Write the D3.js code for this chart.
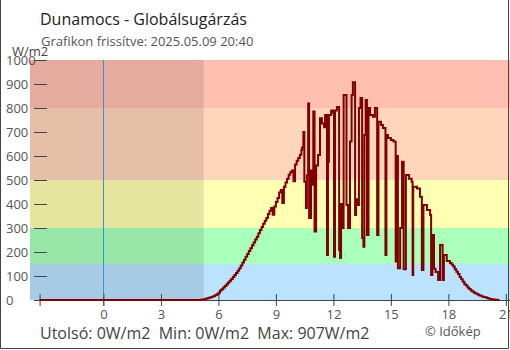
<!DOCTYPE html>
<html>
<head>
<meta charset="utf-8">
<script src="https://cdn.jsdelivr.net/npm/d3@7"></script>
<style>
  html, body { margin: 0; padding: 0; background: #fff; }
  svg { display: block; font-family: "Open Sans", "Noto Sans", sans-serif; }
</style>
</head>
<body>
<svg id="chart" width="510" height="350"></svg>
<script>
// Global radiation, Dunamocs – minutes from local midnight and W/m2 readings
const minutes = [
  -200, 300, 305, 310, 315, 320, 325, 330, 335, 340,
  345, 350, 355, 360, 365, 370, 375, 380, 385, 390,
  395, 400, 405, 410, 415, 420, 425, 430, 435, 440,
  445, 450, 455, 460, 465, 470, 475, 480, 485, 490,
  495, 500, 505, 510, 515, 520, 525, 530, 535, 540,
  545, 550, 555, 560, 565, 570, 575, 580, 585, 590,
  595, 600, 605, 610, 615, 620, 622, 626, 629, 634,
  637, 641, 644, 650, 655, 657, 661, 666, 672, 678,
  684, 691, 694, 700, 703, 706, 713, 719, 722, 725,
  731, 738, 741, 744, 747, 752, 761, 766, 772, 777,
  781, 788, 791, 796, 800, 805, 810, 814, 817, 821,
  825, 830, 835, 844, 850, 857, 861, 869, 875, 883,
  886, 891, 900, 908, 915, 918, 922, 929, 935, 940,
  947, 957, 965, 968, 970, 982, 991, 997, 1002, 1013,
  1023, 1026, 1030, 1035, 1040, 1048, 1054, 1062, 1066, 1075,
  1085, 1090, 1095, 1100, 1105, 1110, 1115, 1120, 1125, 1130,
  1135, 1140, 1145, 1150, 1155, 1160, 1165, 1170, 1175, 1180,
  1185, 1190, 1195, 1200, 1205, 1210, 1215, 1220, 1225, 1230,
  1235, 1240
];
const radiation = [
  0, 0, 1, 2, 3, 5, 7, 9, 11, 14,
  17, 21, 24, 30, 40, 45, 52, 58, 66, 73,
  80, 88, 96, 104, 112, 122, 132, 144, 156, 168,
  180, 192, 204, 216, 228, 240, 252, 264, 278, 292,
  304, 318, 330, 342, 358, 372, 383, 355, 390, 408,
  425, 448, 458, 404, 472, 490, 505, 522, 532, 540,
  495, 565, 580, 592, 605, 625, 635, 700, 493, 383,
  520, 819, 342, 540, 480, 785, 285, 560, 604, 757,
  735, 720, 771, 187, 576, 771, 790, 780, 180, 790,
  804, 208, 175, 400, 300, 854, 396, 300, 660, 854,
  907, 354, 420, 396, 800, 842, 258, 222, 687, 833,
  271, 800, 771, 764, 800, 271, 743, 729, 717, 187,
  687, 675, 667, 660, 160, 600, 132, 300, 576, 128,
  521, 505, 493, 104, 472, 465, 430, 125, 396, 375,
  354, 104, 271, 130, 117, 83, 229, 83, 187, 162,
  154, 148, 140, 128, 118, 108, 96, 86, 76, 66,
  60, 52, 46, 40, 35, 30, 27, 24, 20, 18,
  15, 13, 11, 8, 6, 4, 3, 2, 1, 1,
  0, 0
];

// Intensity bands (W/m2) and their fills
const bandLimits = [0, 150, 300, 500, 800, 1000];
const bandColors = ["#bbe2ff", "#aaffbb", "#ffffb3", "#ffd5bb", "#ffbfb0"];

const yTicks = [0, 100, 200, 300, 400, 500, 600, 700, 800, 900, 1000];
const hourTicks = [0, 3, 6, 9, 12, 15, 18, 21];
const sunriseMinute = 314;

const title = "Dunamocs - Globálsugárzás";
const subtitle = "Grafikon frissítve: 2025.05.09 20:40";
const unit = "W/m2";
const summary = "Utolsó: 0W/m2  Min: 0W/m2  Max: 907W/m2";
const credit = "© Időkép";

const svg = d3.select("#chart");
const W = 510, H = 350;

const x = d3.scaleLinear().domain([-230, 1273]).range([30, 510]);
const y = d3.scaleLinear().domain([0, 1000]).range([300, 60]);

// background bands
svg.append("g").selectAll("rect")
  .data(bandColors)
  .join("rect")
  .attr("x", x.range()[0])
  .attr("width", x.range()[1] - x.range()[0])
  .attr("y", (d, i) => y(bandLimits[i + 1]))
  .attr("height", (d, i) => y(bandLimits[i]) - y(bandLimits[i + 1]))
  .attr("fill", d => d);

// night shading before sunrise
svg.append("rect")
  .attr("x", x.range()[0])
  .attr("y", y(1000))
  .attr("width", x(sunriseMinute) - x.range()[0])
  .attr("height", y(0) - y(1000))
  .attr("fill", "#000")
  .attr("fill-opacity", 0.1);

// y axis ticks and labels
const yAxis = svg.append("g");
yAxis.selectAll("line")
  .data(yTicks.slice(1))
  .join("line")
  .attr("x1", 34).attr("x2", 47)
  .attr("y1", d => Math.round(y(d)) + 0.5)
  .attr("y2", d => Math.round(y(d)) + 0.5)
  .attr("stroke", "#444").attr("stroke-width", 1);
yAxis.selectAll("text")
  .data(yTicks)
  .join("text")
  .attr("x", 6)
  .attr("y", d => y(d))
  .attr("dy", "0.35em")
  .attr("font-size", 13)
  .attr("fill", "#555")
  .text(d => d);

// midnight marker
svg.append("line")
  .attr("x1", Math.round(x(0)) + 0.5).attr("x2", Math.round(x(0)) + 0.5)
  .attr("y1", y(1000)).attr("y2", 306)
  .attr("stroke", "#3d8fd6").attr("stroke-width", 1);

// x axis
const xAxis = d3.axisBottom(x)
  .tickValues([minutes[0], ...hourTicks.map(h => h * 60)])
  .tickFormat(d => d < 0 ? "" : String(d / 60))
  .tickSize(6)
  .tickPadding(4);
const gx = svg.append("g")
  .attr("transform", "translate(0,300)")
  .call(xAxis);
gx.select(".domain").remove();
gx.append("line")
  .attr("x1", 34).attr("x2", W)
  .attr("y1", 0.5).attr("y2", 0.5)
  .attr("stroke", "#444");
gx.selectAll(".tick line").attr("stroke", "#444").attr("y1", -6);
gx.selectAll(".tick text")
  .attr("font-size", 13)
  .attr("font-family", "Open Sans, Noto Sans, sans-serif")
  .attr("fill", "#555");

// radiation line
const line = d3.line()
  .x((d, i) => x(minutes[i]))
  .y(d => y(d))
  .curve(d3.curveStepAfter);
svg.append("path")
  .datum(radiation)
  .attr("d", line)
  .attr("fill", "none")
  .attr("stroke", "#800000")
  .attr("stroke-width", 2);

// titles and notes
svg.append("text").attr("x", 40).attr("y", 25)
  .attr("font-size", 16).attr("fill", "#222").text(title);
svg.append("text").attr("x", 41).attr("y", 46)
  .attr("font-size", 13).attr("fill", "#555").text(subtitle);
svg.append("text").attr("x", 12).attr("y", 56)
  .attr("font-size", 13).attr("fill", "#444").text(unit);
svg.append("text").attr("x", 40).attr("y", 339)
  .attr("font-size", 16).attr("fill", "#444")
  .attr("xml:space", "preserve").style("white-space", "pre").text(summary);
svg.append("text").attr("x", 425).attr("y", 336)
  .attr("font-size", 13).attr("fill", "#555").text(credit);

// frame
svg.append("path")
  .attr("d", `M0.5,0V${H - 1.5}H${W - 1.5}V0`)
  .attr("fill", "none")
  .attr("stroke", "#444");
</script>
</body>
</html>
